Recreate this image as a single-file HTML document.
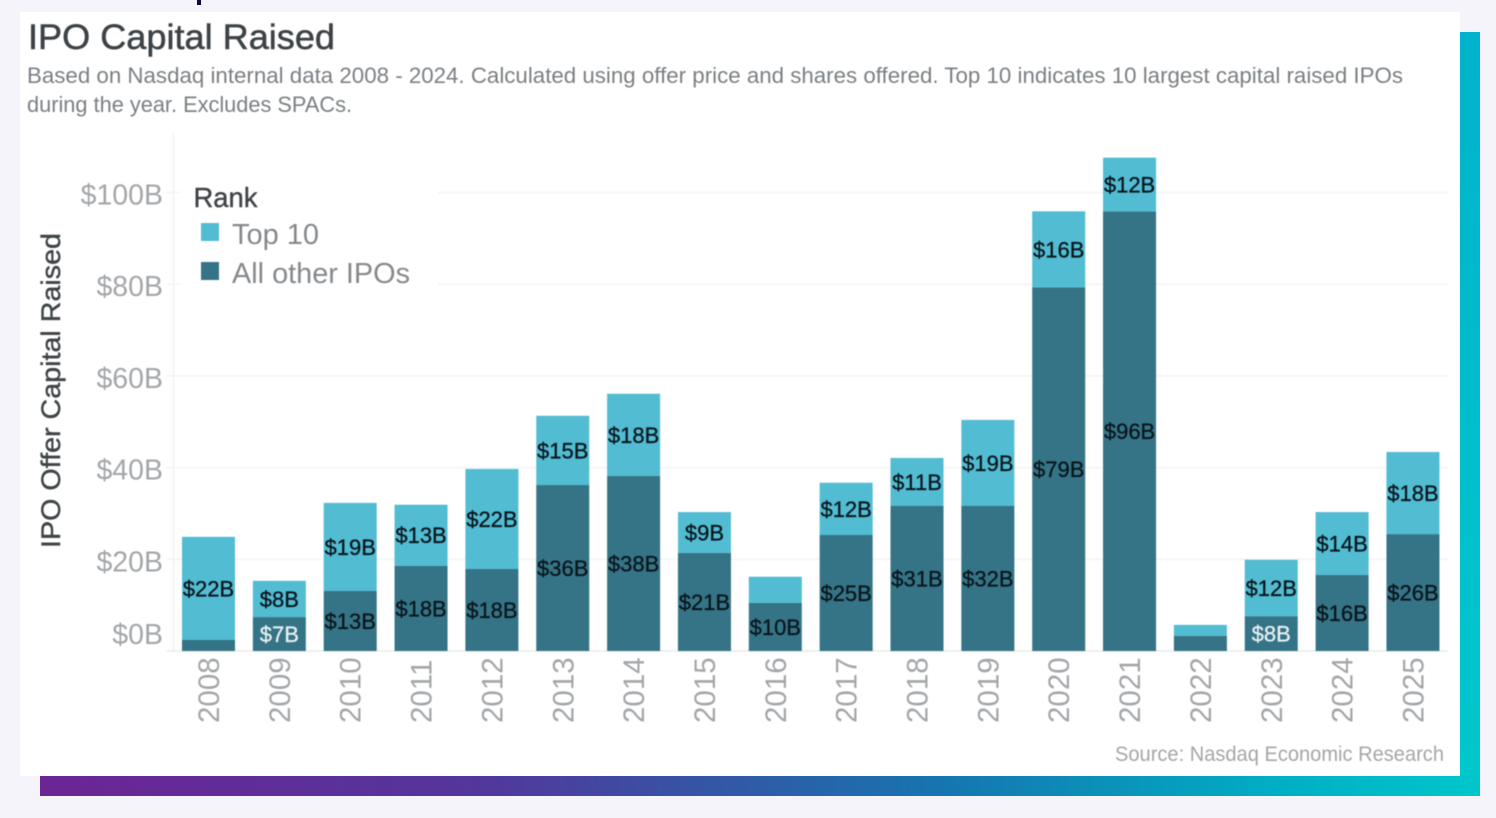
<!DOCTYPE html>
<html lang="en">
<head>
<meta charset="utf-8">
<title>IPO Capital Raised</title>
<style>
html,body{margin:0;padding:0;width:1496px;height:818px;overflow:hidden;background:#f4f4fa;font-family:"Liberation Sans",sans-serif}
#stage{position:absolute;left:0;top:0;width:1496px;height:818px}
svg text{font-family:"Liberation Sans",sans-serif}
#chart-content{filter:blur(0.45px)}
</style>
</head>
<body>
<svg id="stage" width="1496" height="818" viewBox="0 0 1496 818" xmlns="http://www.w3.org/2000/svg">
  <defs>
    <linearGradient id="frameGrad" gradientUnits="userSpaceOnUse" x1="40" y1="796" x2="1480" y2="640">
      <stop offset="0" stop-color="#6c2595"/>
      <stop offset="0.3" stop-color="#53369c"/>
      <stop offset="0.62" stop-color="#1675b0"/>
      <stop offset="0.85" stop-color="#00aec4"/>
      <stop offset="1" stop-color="#00c8cc"/>
    </linearGradient>
    <linearGradient id="sideGrad" x1="0" y1="1" x2="0" y2="0">
      <stop offset="0" stop-color="#00c8cc"/>
      <stop offset="1" stop-color="#00b2cb"/>
    </linearGradient>
  </defs>
  <rect x="197" y="0" width="4" height="5" fill="#0c0a3e"/>
  <rect x="1460" y="32" width="20" height="764" fill="url(#sideGrad)"/>
  <rect x="40" y="776" width="1440" height="20" fill="url(#frameGrad)"/>
  <rect x="20" y="12" width="1440" height="764" fill="#ffffff"/>
  <g id="chart-content">
    <text x="28" y="49" font-size="35" fill="#3c4246" stroke="#3c4246" stroke-width="0.5" textLength="307" lengthAdjust="spacingAndGlyphs">IPO Capital Raised</text>
    <text x="27" y="83" font-size="22" fill="#7a7f83" textLength="1376" lengthAdjust="spacingAndGlyphs">Based on Nasdaq internal data 2008 - 2024. Calculated using offer price and shares offered. Top 10 indicates 10 largest capital raised IPOs</text>
    <text x="27" y="112" font-size="22" fill="#7a7f83" textLength="325" lengthAdjust="spacingAndGlyphs">during the year. Excludes SPACs.</text>
    <g id="plot"></g>
    <rect x="180" y="172" width="258" height="120" fill="#ffffff"/>
    <text x="193.500" y="207" font-size="28" fill="#3f4447" stroke="#3f4447" stroke-width="0.4" textLength="64" lengthAdjust="spacingAndGlyphs">Rank</text>
    <rect x="201" y="223" width="18" height="18" fill="#52bcd2"/>
    <text x="232" y="244" font-size="29" fill="#85898c" textLength="87" lengthAdjust="spacingAndGlyphs">Top 10</text>
    <rect x="201" y="262" width="18" height="18" fill="#357486"/>
    <text x="232" y="283" font-size="29" fill="#85898c" textLength="178" lengthAdjust="spacingAndGlyphs">All other IPOs</text>
    <text transform="translate(60,390.5) rotate(-90)" text-anchor="middle" font-size="27" fill="#3f4447" stroke="#3f4447" stroke-width="0.4" textLength="315" lengthAdjust="spacingAndGlyphs">IPO Offer Capital Raised</text>
    <text x="1115" y="761" font-size="21" fill="#a3a6a9" textLength="329" lengthAdjust="spacingAndGlyphs">Source: Nasdaq Economic Research</text>
  </g>
</svg>
<script>
const categories = ["2008","2009","2010","2011","2012","2013","2014","2015","2016","2017","2018","2019","2020","2021","2022","2023","2024","2025"];
const otherIpos = [2.4,7.4,13.1,18.6,17.9,36.2,38.2,21.4,10.5,25.3,31.7,31.7,79.3,95.9,3.3,7.6,16.6,25.5];
const top10 = [22.5,7.9,19.2,13.3,21.8,15.1,17.9,8.9,5.7,11.4,10.4,18.7,16.6,11.7,2.4,12.3,13.7,17.9];
const otherLabels = ["","$7B","$13B","$18B","$18B","$36B","$38B","$21B","$10B","$25B","$31B","$32B","$79B","$96B","","$8B","$16B","$26B"];
const top10Labels = ["$22B","$8B","$19B","$13B","$22B","$15B","$18B","$9B","","$12B","$11B","$19B","$16B","$12B","","$12B","$14B","$18B"];
const yTicks = [0,20,40,60,80,100];
const yTickLabels = ["$0B","$20B","$40B","$60B","$80B","$100B"];

const NS = "http://www.w3.org/2000/svg";
const plot = document.getElementById("plot");
const yBase = 651, yUnit = 4.585;
const xFirst = 208.5, xStep = 70.85, barW = 53;
const tickLabelMaxY = 644;
function yScale(v){ return yBase - v * yUnit; }
function xScale(i){ return xFirst + i * xStep; }
function make(tag, attrs, txt){
  const e = document.createElementNS(NS, tag);
  for (const k in attrs) e.setAttribute(k, attrs[k]);
  if (txt !== undefined) e.textContent = txt;
  plot.appendChild(e);
  return e;
}

const axisLine = make("line", {x1:173.5, x2:173.5, y1:133, y2:yBase, stroke:"#f1f1f1", "stroke-width":1.5});



yTicks.forEach(function(t, i){
  const y = yScale(t);
  const grid = make("line", {x1:167, x2:1448, y1:y, y2:y, stroke: t === 0 ? "#eaeaea" : "#f3f3f3", "stroke-width":1.5});
  
  
  const tick = make("text", {x:163, y:Math.min(y + 12, tickLabelMaxY), "text-anchor":"end", "font-size":28.5, fill:"#a3a6a9"}, yTickLabels[i]);
  
  
});

categories.forEach(function(c, i){
  const cx = xScale(i);
  const y0 = yScale(otherIpos[i]);
  const y1 = yScale(otherIpos[i] + top10[i]);
  const barOther = make("rect", {x:cx - barW/2, y:y0, width:barW, height:yBase - y0, fill:"#357486"});
  
  
  const barTop = make("rect", {x:cx - barW/2, y:y1, width:barW, height:y0 - y1, fill:"#52bcd2"});
  
  
  if (top10Labels[i]) {
    const lt = make("text", {x:cx, y:(y0 + y1)/2 + 8, "text-anchor":"middle", "font-size":22, fill:"#0a151c", stroke:"#0a151c", "stroke-width":0.3}, top10Labels[i]);
    
    
  }
  if (otherLabels[i]) {
    const light = otherIpos[i] < 9;
    const labelColor = light ? "#e8f1f3" : "#0a151c";
    const lo = make("text", {x:cx, y:(y0 + yBase)/2 + 8, "text-anchor":"middle", "font-size":22, fill:labelColor, stroke:labelColor, "stroke-width":0.3}, otherLabels[i]);
    
    
  }
  const yr = make("text", {transform:"translate(" + (cx + 10.5) + ",723) rotate(-90)", "font-size":29.5, fill:"#a3a6a9"}, c);
  
  
});
</script>
</body>
</html>
